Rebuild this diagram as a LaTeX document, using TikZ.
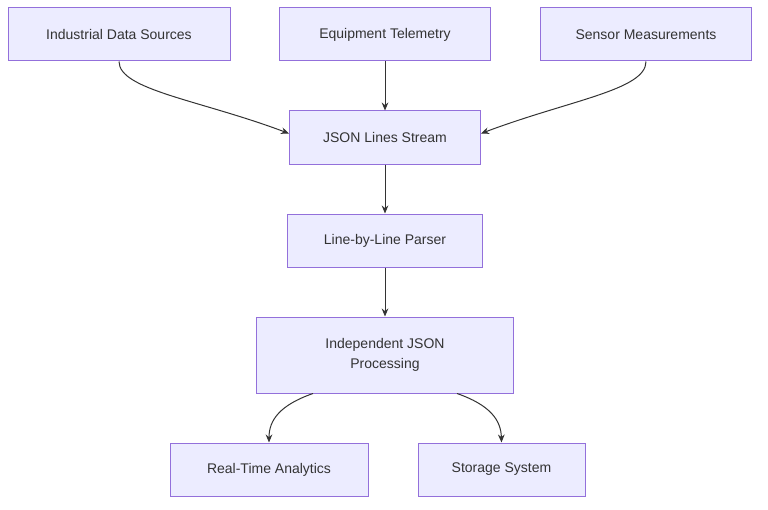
\documentclass[tikz,border=0pt]{standalone}
\usepackage{fontspec}
\setmainfont{Liberation Sans}
\usetikzlibrary{arrows.meta}
\definecolor{boxfill}{HTML}{ECECFF}
\definecolor{boxline}{HTML}{9370DB}
\definecolor{edgecol}{HTML}{333333}
\begin{document}
\begin{tikzpicture}[
        x=0.75pt, y=-0.75pt,
        box/.style={draw=boxline, fill=boxfill, line width=0.75pt, align=center,
            font=\fontsize{10.5}{15}\selectfont, text=edgecol, inner sep=0pt},
        flow/.style={draw=edgecol, line width=0.75pt, -{Stealth[length=6pt,width=5pt]}},
    ]
    \useasboundingbox (0,0) rectangle (768,510);
    \node[box, minimum width=222*0.75pt, minimum height=53*0.75pt](sources) at (119,34.5){Industrial Data Sources};
    \node[box, minimum width=211*0.75pt, minimum height=53*0.75pt](telemetry) at (385,34.5){Equipment Telemetry};
    \node[box, minimum width=211*0.75pt, minimum height=53*0.75pt](sensors) at (646,34.5){Sensor Measurements};
    \node[box, minimum width=191*0.75pt, minimum height=53*0.75pt](stream) at (385,137.5){JSON Lines Stream};
    \node[box, minimum width=195*0.75pt, minimum height=53*0.75pt](parser) at (385,240.5){Line-by-Line Parser};
    \node[box, minimum width=257*0.75pt, minimum height=76*0.75pt](process) at (385,355){Independent JSON\\Processing};
    \node[box, minimum width=198*0.75pt, minimum height=53*0.75pt](analytics) at (269,469.5){Real-Time Analytics};
    \node[box, minimum width=167*0.75pt, minimum height=53*0.75pt](storage) at (501.5,469.5){Storage System};

    \draw[flow] (sources.south) .. controls (119,90) and (200,100) .. ([yshift=3pt]stream.west);
    \draw[flow] (telemetry) -- (stream);
    \draw[flow] (sensors.south) .. controls (646,90) and (570,100) .. ([yshift=3pt]stream.east);
    \draw[flow] (stream) -- (parser);
    \draw[flow] (parser) -- (process);
    \draw[flow] ([xshift=-72*0.75pt]process.south) .. controls (280,405) and (269,420) .. (analytics.north);
    \draw[flow] ([xshift=72*0.75pt]process.south) .. controls (490,405) and (501,420) .. (storage.north);
\end{tikzpicture}
\end{document}
